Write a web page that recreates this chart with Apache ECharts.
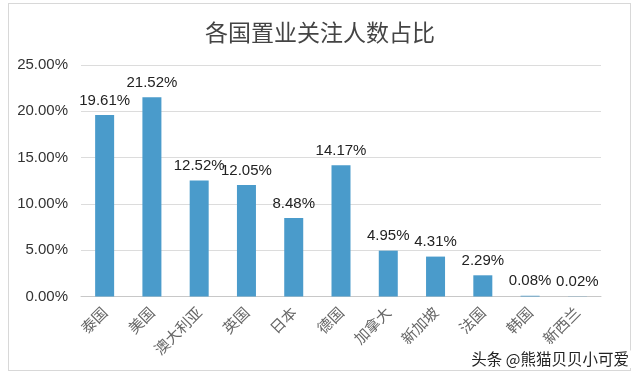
<!DOCTYPE html>
<html>
<head>
<meta charset="utf-8">
<style>
  html, body { margin: 0; padding: 0; background: #fff; }
  #frame { position: absolute; left: 8px; top: 3px; width: 623px; height: 368px; border: 1px solid #d8d8d8; box-sizing: border-box; }
  #chart { width: 640px; height: 378px; }
</style>
<script src="https://cdn.jsdelivr.net/npm/echarts@6/dist/echarts.min.js"></script>
</head>
<body>
<div id="frame"></div>
<div id="chart" style="position:absolute;left:0;top:0;"></div>
<script>
// 国家
const countries = ['泰国', '美国', '澳大利亚', '英国', '日本', '德国', '加拿大', '新加坡', '法国', '韩国', '新西兰'];
// 关注人数占比 (%)
const shares = [19.61, 21.52, 12.52, 12.05, 8.48, 14.17, 4.95, 4.31, 2.29, 0.08, 0.02];

const chart = echarts.init(document.getElementById('chart'));

const option = {
  animation: false,
  title: {
    text: '各国置业关注人数占比',
    left: 'center',
    top: 16,
    textStyle: {
      fontFamily: 'Noto Sans CJK SC',
      fontSize: 23,
      fontWeight: 'normal',
      color: '#444'
    }
  },
  graphic: [{
    type: 'text',
    right: 9,
    bottom: 10,
    style: {
      text: '头条 @熊猫贝贝小可爱',
      font: '15.5px "Noto Sans CJK SC"',
      fill: '#222',
      backgroundColor: '#fff',
      padding: [1, 2]
    }
  }],
  grid: {
    top: 65,
    bottom: 81.5,
    left: 81,
    right: 39
  },
  xAxis: {
    type: 'category',
    data: countries,
    axisLine: { lineStyle: { color: '#c8c8c8' } },
    axisTick: { show: false },
    axisLabel: {
      interval: 0,
      rotate: 45,
      margin: 13,
      color: '#666',
      fontSize: 15,
      fontFamily: 'Noto Sans CJK SC'
    }
  },
  yAxis: {
    type: 'value',
    min: 0,
    max: 25,
    interval: 5,
    axisLine: { show: false },
    axisTick: { show: false },
    splitLine: { lineStyle: { color: '#dcdcdc' } },
    axisLabel: {
      margin: 13,
      color: '#333',
      fontSize: 15,
      fontFamily: 'Liberation Sans',
      formatter: v => v.toFixed(2) + '%'
    }
  },
  series: [{
    type: 'bar',
    data: shares,
    barWidth: 19,
    itemStyle: { color: '#4a9bcb' },
    label: {
      show: true,
      position: 'top',
      distance: 7,
      color: '#222',
      fontSize: 15,
      fontFamily: 'Liberation Sans',
      formatter: p => p.value.toFixed(2) + '%'
    }
  }]
};

chart.setOption(option);
</script>
</body>
</html>
